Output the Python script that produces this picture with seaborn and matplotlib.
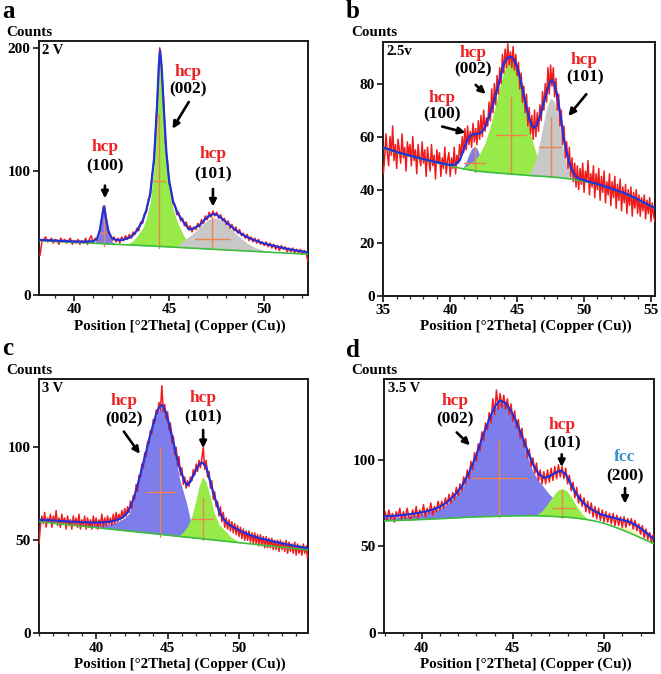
import numpy as np
import matplotlib
matplotlib.use("Agg")
import matplotlib.pyplot as plt
import seaborn as sns
from matplotlib.ticker import MultipleLocator, FixedLocator

# ---------------- data ----------------
# Panel a (2 V)
A_OBS_X0 = 38.2
A_OBS = [32, 43, 45, 47, 43, 44, 46, 42, 45, 44,
         41, 46, 43, 45, 42, 44, 46, 41, 44, 42,
         45, 41, 44, 42, 46, 41, 45, 48, 42, 46,
         44, 50, 57, 66, 72, 61, 50, 49, 44, 47,
         43, 46, 42, 47, 44, 48, 45, 49, 46, 51,
         49, 54, 52, 59, 58, 66, 67, 77, 80, 97,
         108, 138, 165, 200, 184, 158, 124, 109, 90, 85,
         74, 73, 65, 67, 60, 62, 56, 59, 53, 56,
         51, 55, 53, 58, 55, 61, 58, 64, 61, 67,
         63, 68, 64, 67, 62, 65, 60, 62, 57, 60,
         54, 57, 52, 55, 50, 53, 48, 50, 46, 49,
         44, 47, 43, 46, 42, 45, 41, 43, 40, 43,
         39, 42, 38, 41, 37, 40, 36, 40, 37, 39,
         35, 38, 35, 38, 34, 37, 34, 37, 33, 36,
         34, 27]
A_FIT_X = [38.15, 39.0, 40.0, 40.5, 41.0, 41.2, 41.35, 41.45, 41.56, 41.67, 41.8, 41.95,
           42.2, 42.56, 43.0, 43.3, 43.6, 43.8, 44.0, 44.2, 44.35, 44.45, 44.52, 44.6,
           44.7, 44.85, 45.0, 45.2, 45.45, 45.8, 46.06, 46.3, 46.6, 46.9, 47.1, 47.3,
           47.5, 47.8, 48.1, 48.5, 49.0, 49.5, 50.0, 50.5, 51.0, 51.5, 52.0, 52.3]
A_FIT_Y = [44.6, 44.0, 43.3, 43.1, 43.5, 45.5, 52, 62, 71.7, 62, 52, 46.5,
           44.5, 44.6, 47, 52, 60, 69, 82, 110, 150, 185, 198, 185,
           155, 115, 92, 76, 66, 58, 53, 54, 56.5, 61.5, 64, 65.5,
           65, 61.5, 57.5, 52.5, 47.5, 44.3, 41.5, 39.8, 38.0, 36.5, 35.2, 34.5]
A_BG_X = [38.15, 44.5, 47.3, 52.3]
A_BG_Y = [44.0, 39.3, 37.0, 33.0]
A_P100_X = [40.9, 41.1, 41.25, 41.35, 41.45, 41.56, 41.67, 41.77, 41.87, 42.0, 42.2]
A_P100_Y = [41.9, 42.8, 45.5, 50.5, 60, 70, 60, 50.5, 46, 43, 41.3]
A_P002_X = [42.6, 42.9, 43.1, 43.3, 43.6, 43.8, 44.0, 44.2, 44.35, 44.45, 44.52, 44.6,
            44.7, 44.85, 45.0, 45.2, 45.45, 45.8, 46.1, 46.4]
A_P002_Y = [40.6, 42.0, 44.0, 47.5, 54, 62, 75, 104, 146, 182, 196, 182,
            152, 112, 88, 70, 58, 47, 42, 38.6]
A_P101_X = [45.2, 45.5, 45.8, 46.1, 46.4, 46.7, 47.0, 47.3, 47.6, 47.9, 48.2, 48.5,
            48.8, 49.1, 49.5, 50.0, 50.6]
A_P101_Y = [38.6, 40.5, 44.5, 48, 52, 56.5, 60.5, 62.5, 61.5, 58.5, 54, 49.5,
            45.5, 42, 38.5, 36, 34.3]
# crosses: (x, y_bottom, y_top, x_left, x_right, y_horizontal)
A_CROSS = [(41.56, 40, 62, 41.35, 41.77, 50),
           (44.47, 38.4, 146.7, 44.15, 44.8, 92.6),
           (47.24, 37.1, 62.8, 46.34, 48.18, 45.7)]
A_LABELS = [("hcp", 41.62, 119.6), ("(100)", 41.62, 104.0),
            ("hcp", 45.99, 180.5), ("(002)", 45.99, 166.2),
            ("hcp", 47.30, 113.7), ("(101)", 47.30, 97.2)]
A_ARROWS = [(41.62, 88.5, 41.62, 78.2), (46.03, 156.2, 45.17, 134.5),
            (47.30, 85.8, 47.30, 71.5)]

# Panel b (2.5 v)
B_OBS_X0 = 35.0
B_OBS = [46, 52, 61, 54, 49, 60, 53, 64, 51, 57,
         48, 59, 55, 50, 61, 52, 56, 47, 58, 53,
         57, 49, 60, 51, 55, 46, 57, 52, 49, 58,
         50, 55, 45, 56, 51, 47, 57, 49, 53, 44,
         55, 50, 54, 45, 52, 48, 56, 46, 51, 54,
         45, 52, 48, 56, 46, 53, 50, 57, 52, 60,
         54, 63, 55, 64, 57, 62, 56, 65, 58, 63,
         57, 66, 59, 68, 60, 70, 62, 67, 64, 73,
         66, 78, 69, 80, 72, 83, 76, 86, 80, 91,
         84, 93, 86, 95, 87, 92, 86, 94, 85, 91,
         83, 88, 78, 84, 73, 79, 69, 76, 64, 71,
         61, 68, 59, 70, 60, 69, 62, 72, 66, 77,
         70, 80, 73, 86, 76, 87, 79, 86, 75, 82,
         70, 76, 64, 70, 57, 64, 52, 58, 48, 56,
         45, 52, 43, 50, 41, 49, 40, 48, 42, 50,
         39, 47, 43, 51, 38, 46, 41, 49, 37, 46,
         40, 48, 36, 45, 39, 47, 35, 43, 38, 46,
         34, 43, 37, 45, 33, 42, 36, 44, 32, 41,
         35, 42, 31, 40, 34, 41, 30, 39, 33, 40,
         31, 38, 30, 37, 32, 38, 29, 36, 31, 37,
         28, 35, 30, 28]
B_FIT_X = [35.0, 36.0, 37.0, 38.0, 39.0, 40.0, 40.4, 40.7, 41.0, 41.3, 41.6, 42.0, 42.3,
           42.6, 42.9, 43.25, 43.6, 44.0, 44.3, 44.5, 44.75, 45.0, 45.25, 45.5, 45.7,
           45.9, 46.1, 46.26, 46.45, 46.7, 47.0, 47.26, 47.45, 47.6, 47.75, 48.0, 48.25,
           48.5, 48.75, 49.0, 49.3, 49.6, 50.0, 50.5, 51.0, 51.5, 52.0, 52.5, 53.0, 53.5,
           54.0, 54.5, 55.0, 55.3]
B_FIT_Y = [55.9, 54.2, 52.8, 51.5, 50.3, 49.3, 49.5, 51, 55, 59, 60.8, 61, 61.5,
           63.5, 67.5, 73, 79.5, 87.5, 89.8, 90.2, 89.2, 86.4, 81.5, 75.7, 71,
           67, 64.2, 63.2, 64.2, 67.5, 73, 77.6, 80.5, 81.4, 80.2, 75.5, 67.5,
           59, 53, 48.5, 45.3, 44.2, 43.5, 42.8, 42.1, 41.3, 40.5, 39.6, 38.7, 37.6,
           36.4, 35.1, 33.8, 33.0]
B_BG_X = [35.0, 36, 37, 38, 39, 40, 41, 42, 43, 44, 45, 46, 47, 48, 49, 50, 51, 52, 53,
          54, 55, 55.3]
B_BG_Y = [55.6, 54.0, 52.6, 51.3, 50.1, 49.0, 47.8, 47.0, 46.5, 46.1, 45.7, 45.3, 45.0,
          44.6, 44.0, 43.2, 42.0, 40.4, 38.6, 36.3, 33.7, 32.9]
B_P100_X = [40.9, 41.1, 41.3, 41.5, 41.7, 41.85, 42.0, 42.2, 42.4, 42.6]
B_P100_Y = [47.9, 49.5, 52, 54.5, 56, 56.2, 55.5, 53, 50, 47.3]
B_P002_X = [40.8, 41.3, 41.8, 42.2, 42.6, 43.0, 43.3, 43.6, 44.0, 44.3, 44.5, 44.75,
            45.0, 45.25, 45.5, 45.75, 46.0, 46.3, 46.6, 46.9, 47.2, 47.5]
B_P002_Y = [47.9, 49.2, 51, 53.5, 57.5, 64, 70, 76.5, 84.5, 88, 88.8, 88,
            85, 80, 73.5, 67, 61, 55.5, 51, 48, 46, 45]
B_P101_X = [45.8, 46.1, 46.4, 46.7, 47.0, 47.25, 47.5, 47.75, 48.0, 48.2, 48.45, 48.7,
            49.0, 49.4]
B_P101_Y = [45.4, 47.5, 51.5, 58, 66, 71.5, 74.5, 73.5, 69, 63.5, 55, 49, 45.5, 43.8]
B_CROSS = [(41.82, 46.8, 56.2, 41.0, 42.57, 50.2),
           (44.53, 45.9, 75.1, 43.4, 45.65, 60.6),
           (47.53, 44.9, 67.5, 46.65, 48.29, 56.2)]
B_LABELS = [("hcp", 39.39, 74.5), ("(100)", 39.39, 68.4),
            ("hcp", 41.72, 91.5), ("(002)", 41.72, 85.2),
            ("hcp", 50.04, 88.9), ("(101)", 50.04, 82.3)]
B_ARROWS = [(39.40, 63.8, 41.14, 61.5), (41.90, 79.5, 42.65, 76.1),
            (50.17, 76.0, 48.83, 67.8)]

# Panel c (3 V)
C_OBS_X0 = 36.0
C_OBS = [48, 58, 63, 59, 65, 57, 62, 60, 64, 57,
         63, 59, 66, 58, 62, 57, 64, 59, 62, 56,
         63, 58, 61, 56, 63, 58, 62, 57, 64, 56,
         61, 58, 63, 56, 62, 57, 61, 56, 63, 58,
         62, 56, 61, 58, 64, 57, 62, 58, 63, 59,
         62, 58, 64, 59, 65, 60, 64, 61, 66, 62,
         67, 63, 68, 65, 71, 67, 74, 72, 80, 76,
         85, 84, 91, 89, 97, 95, 103, 102, 109, 107,
         115, 113, 120, 118, 124, 120, 133, 119, 123, 115,
         119, 109, 113, 102, 106, 96, 100, 90, 95, 85,
         89, 80, 84, 78, 82, 79, 84, 82, 88, 85,
         91, 87, 93, 89, 94, 100, 88, 93, 84, 87,
         78, 82, 72, 76, 68, 71, 63, 68, 60, 65,
         57, 62, 56, 61, 55, 60, 54, 59, 53, 58,
         52, 57, 51, 56, 50, 55, 50, 55, 49, 54,
         48, 54, 48, 53, 47, 53, 47, 52, 46, 52,
         46, 51, 46, 51, 45, 50, 45, 50, 44, 50,
         45, 49, 44, 50, 43, 49, 44, 48, 43, 49,
         42, 48, 43, 47, 42, 48, 43, 47, 40]
C_FIT_X = [36.0, 37.0, 38.0, 39.0, 40.0, 40.5, 41.0, 41.5, 41.9, 42.2, 42.4, 42.6, 42.85,
           43.06, 43.3, 43.53, 43.75, 43.99, 44.2, 44.4, 44.62, 44.85, 45.0, 45.16, 45.4,
           45.63, 45.8, 45.98, 46.2, 46.37, 46.6, 46.85, 47.1, 47.3, 47.45, 47.7, 48.0,
           48.2, 48.4, 48.65, 48.9, 49.2, 49.6, 50.1, 50.76, 51.5, 52.3, 53.1, 54.0, 54.85]
C_FIT_Y = [61.0, 60.6, 60.1, 59.7, 59.5, 59.6, 60.0, 61.0, 62.5, 65, 68, 71.7, 78,
           84.2, 91.5, 98.5, 105.5, 112, 117.5, 121.3, 122.7, 119.5, 115.5, 111, 103,
           95, 90, 86, 81.5, 79.7, 81.5, 85.5, 89.5, 91.3, 91.7, 89.5, 81,
           75.5, 70.5, 65, 61.5, 59, 57.2, 55, 52.8, 51, 49.5, 48.2, 46.8, 45.7]
C_BG_X = [36.0, 54.85]
C_BG_Y = [60.0, 44.8]
C_P002_X = [38.0, 39.0, 40.0, 41.0, 41.5, 42.0, 42.3, 42.6, 42.85, 43.06, 43.3, 43.53,
            43.75, 43.99, 44.2, 44.4, 44.62, 44.85, 45.0, 45.16, 45.4, 45.63, 45.86,
            46.1, 46.33, 46.5, 46.68, 46.85, 47.0, 47.3]
C_P002_Y = [58.9, 58.6, 58.6, 59.0, 60.0, 62.0, 64.5, 70.5, 77, 83.5, 91, 98,
            105, 111.5, 116.5, 120, 121.5, 118.5, 114.5, 109.5, 101, 92, 82.4,
            76, 70, 64, 58.5, 55, 52.5, 51.0]
C_P101_X = [45.8, 46.1, 46.4, 46.7, 47.0, 47.2, 47.45, 47.7, 47.96, 48.28, 48.6, 48.98,
            49.4, 49.8, 50.2]
C_P101_Y = [52.5, 54.5, 57.5, 63, 72, 79, 84.2, 81.5, 74, 64.5, 58.5, 55.5, 52, 50, 48.6]
C_CROSS = [(44.5, 52.0, 99.5, 43.46, 45.56, 75.8),
           (47.45, 50.2, 72.6, 46.68, 48.19, 61.4)]
C_LABELS = [("hcp", 41.94, 124.9), ("(002)", 41.94, 115.0),
            ("hcp", 47.49, 126.3), ("(101)", 47.49, 116.1)]
C_ARROWS = [(41.94, 108.4, 43.06, 96.4), (47.49, 109.3, 47.49, 99.5)]

# Panel d (3.5 V)
D_OBS_X0 = 38.0
D_OBS = [70, 65, 71, 66, 69, 64, 70, 67, 72, 65,
         70, 66, 72, 67, 65, 71, 67, 73, 66, 71,
         68, 74, 67, 72, 69, 75, 68, 73, 70, 76,
         71, 76, 72, 78, 74, 80, 75, 81, 77, 84,
         79, 86, 82, 90, 86, 94, 89, 99, 94, 104,
         99, 109, 105, 116, 111, 121, 117, 127, 121, 135,
         126, 140, 129, 138, 130, 137, 129, 135, 126, 132,
         122, 128, 118, 123, 112, 118, 107, 112, 101, 106,
         96, 101, 92, 98, 88, 94, 86, 93, 86, 94,
         87, 95, 88, 96, 89, 97, 90, 96, 89, 95,
         86, 91, 82, 87, 78, 84, 75, 80, 73, 78,
         70, 76, 69, 75, 67, 73, 66, 72, 65, 71,
         64, 70, 64, 69, 63, 69, 62, 68, 62, 67,
         61, 67, 61, 66, 62, 66, 60, 65, 59, 63,
         57, 62, 55, 60, 54, 58, 52, 57]
D_FIT_X = [37.95, 38.5, 39.0, 39.5, 40.0, 40.5, 41.0, 41.4, 41.8, 42.2, 42.6, 43.0, 43.4,
           43.8, 44.05, 44.3, 44.6, 44.9, 45.2, 45.5, 45.8, 46.1, 46.4, 46.7, 47.0, 47.3,
           47.63, 47.9, 48.15, 48.4, 48.7, 49.0, 49.3, 49.8, 50.3, 50.73, 51.06, 51.35,
           51.6, 51.9, 52.15, 52.45, 52.74]
D_FIT_Y = [67.3, 67.6, 68.1, 68.8, 69.6, 70.8, 72.8, 75.5, 79.5, 84.5, 92.5, 102.5, 115,
           125.5, 131, 134, 132.5, 128, 121.5, 113.5, 105, 97.5, 92, 89.5, 90.3, 92.3,
           93.6, 91.5, 86.5, 81.5, 77, 73.8, 71.5, 68.5, 67, 66, 65, 64.3,
           63.1, 61.3, 59.2, 56.8, 54.2]
D_BG_X = [37.95, 39, 40, 41, 42, 43, 44, 45, 46, 47, 48, 48.5, 49, 49.5, 50, 50.5, 51,
          51.5, 52, 52.74]
D_BG_Y = [64.7, 65.1, 65.5, 66.0, 66.5, 67.0, 67.3, 67.6, 67.7, 67.4, 66.8, 66.3, 65.6,
          64.6, 63.3, 61.5, 59.5, 57.3, 55.0, 51.6]
D_P002_X = [37.95, 39.0, 40.0, 41.0, 41.4, 41.8, 42.2, 42.6, 43.0, 43.4, 43.8, 44.05,
            44.3, 44.6, 44.9, 45.2, 45.5, 45.8, 46.1, 46.4, 46.7, 47.0, 47.3, 47.6,
            48.0, 48.5, 49.0, 49.5]
D_P002_Y = [66.5, 67.2, 68.6, 71.8, 74.5, 78.5, 83.5, 91.5, 101.5, 114, 124.5, 130,
            133, 131.5, 126.5, 119.5, 111, 101.5, 93, 88, 84, 80, 77, 74,
            70.5, 67.5, 65.8, 64.6]
D_P101_X = [46.3, 46.6, 46.9, 47.2, 47.45, 47.7, 47.95, 48.2, 48.45, 48.7, 48.95, 49.2]
D_P101_Y = [68, 70.5, 74.5, 79, 82.3, 83.3, 82, 78.5, 74, 70, 67, 65.2]
D_P200_X = [50.6, 50.9, 51.2, 51.4, 51.6, 51.8, 52.0, 52.2]
D_P200_Y = [61.4, 61.2, 61.0, 60.6, 59.5, 57.8, 55.6, 54.2]
D_CROSS = [(44.24, 66.9, 111.5, 42.74, 45.76, 89.4),
           (47.71, 66.3, 82.7, 47.13, 48.41, 72.1)]
D_LABELS = [("hcp", 41.83, 133.6), ("(002)", 41.83, 123.1),
            ("hcp", 47.68, 119.8), ("(101)", 47.68, 109.2),
            ("fcc", 51.15, 101.5), ("(200)", 51.15, 90.5)]
D_ARROWS = [(41.92, 115.6, 42.65, 108.2), (47.68, 103.0, 47.68, 95.7),
            (51.15, 83.6, 51.15, 74.6)]

PANEL_TAGS = ["2 V", "2.5v", "3 V", "3.5 V"]
PANEL_LETTERS = ["a", "b", "c", "d"]
XLABEL = "Position [°2Theta] (Copper (Cu))"

# ---------------- styling ----------------
sns.set_theme(style="ticks")
plt.rcParams['font.family'] = ['Liberation Serif', 'DejaVu Serif']
plt.rcParams['font.weight'] = 'bold'
plt.rcParams['axes.labelweight'] = 'bold'

RED = "#f01c1c"
BLUE = "#2430d8"
GREEN_LINE = "#3cbf3c"
PURPLE_FILL = "#7d7deb"
GREEN_FILL = "#98ea48"
GRAY_FILL = "#c8c8c8"
YELLOW_FILL = "#f4f0b0"
ORANGE = "#f0844c"
HCP_RED = "#ee2222"
FCC_BLUE = "#3a8fc8"

W, H = 661, 674
fig = plt.figure(figsize=(W / 100, H / 100), dpi=100)


def ax_rect(l, r, t, b):
    return [l / W, 1 - b / H, (r - l) / W, (b - t) / H]


axes = [fig.add_axes(ax_rect(39, 308, 41, 295)),
        fig.add_axes(ax_rect(383.3, 655, 41.7, 295.7)),
        fig.add_axes(ax_rect(39, 308.3, 379.3, 633.3)),
        fig.add_axes(ax_rect(384.3, 654, 379.3, 633.3))]

panels = [
    dict(x0=A_OBS_X0, obs=A_OBS, fx=A_FIT_X, fy=A_FIT_Y, bx=A_BG_X, by=A_BG_Y,
         comps=[(A_P100_X, A_P100_Y, PURPLE_FILL), (A_P002_X, A_P002_Y, GREEN_FILL),
                (A_P101_X, A_P101_Y, GRAY_FILL)],
         cross=A_CROSS, labels=A_LABELS, arrows=A_ARROWS,
         xlim=(38.15, 52.3), ylim=(0, 205.5), yt=[0, 100, 200]),
    dict(x0=B_OBS_X0, obs=B_OBS, fx=B_FIT_X, fy=B_FIT_Y, bx=B_BG_X, by=B_BG_Y,
         comps=[(B_P100_X, B_P100_Y, PURPLE_FILL), (B_P002_X, B_P002_Y, GREEN_FILL),
                (B_P101_X, B_P101_Y, GRAY_FILL)],
         cross=B_CROSS, labels=B_LABELS, arrows=B_ARROWS,
         xlim=(35.0, 55.3), ylim=(0, 95.8), yt=[0, 20, 40, 60, 80]),
    dict(x0=C_OBS_X0, obs=C_OBS, fx=C_FIT_X, fy=C_FIT_Y, bx=C_BG_X, by=C_BG_Y,
         comps=[(C_P002_X, C_P002_Y, PURPLE_FILL), (C_P101_X, C_P101_Y, GREEN_FILL)],
         cross=C_CROSS, labels=C_LABELS, arrows=C_ARROWS,
         xlim=(36.0, 54.85), ylim=(0, 136.5), yt=[0, 50, 100]),
    dict(x0=D_OBS_X0, obs=D_OBS, fx=D_FIT_X, fy=D_FIT_Y, bx=D_BG_X, by=D_BG_Y,
         comps=[(D_P002_X, D_P002_Y, PURPLE_FILL), (D_P101_X, D_P101_Y, GREEN_FILL),
                (D_P200_X, D_P200_Y, YELLOW_FILL)],
         cross=D_CROSS, labels=D_LABELS, arrows=D_ARROWS,
         xlim=(37.95, 52.74), ylim=(0, 146.2), yt=[0, 50, 100]),
]

for i, (ax, p) in enumerate(zip(axes, panels)):
    obs = np.asarray(p["obs"], dtype=float)
    obs_x = p["x0"] + 0.1 * np.arange(len(obs))
    bx = np.asarray(p["bx"], dtype=float)
    by = np.asarray(p["by"], dtype=float)

    for cx, cy, col in p["comps"]:
        cx = np.asarray(cx, dtype=float)
        ax.fill_between(cx, np.interp(cx, bx, by), cy, color=col, lw=0, zorder=1)

    for (x, y0, y1, xl, xr, yh) in p["cross"]:
        ax.plot([x, x], [y0, y1], color=ORANGE, lw=1.0, zorder=2)
        ax.plot([xl, xr], [yh, yh], color=ORANGE, lw=1.0, zorder=2)

    sns.lineplot(x=obs_x, y=obs, ax=ax, color=RED, lw=1.1, estimator=None,
                 sort=False, zorder=3, legend=False)
    sns.lineplot(x=bx, y=by, ax=ax, color=GREEN_LINE, lw=1.2, estimator=None,
                 sort=False, zorder=4, legend=False)
    sns.lineplot(x=p["fx"], y=p["fy"], ax=ax, color=BLUE, lw=1.6, estimator=None,
                 sort=False, zorder=5, legend=False)

    for text, x, y in p["labels"]:
        if text == "hcp":
            col = HCP_RED
        elif text == "fcc":
            col = FCC_BLUE
        else:
            col = "black"
        ax.text(x, y, text, color=col, fontsize=12.5, fontweight='bold',
                ha='center', va='center', zorder=7)
    for (xt, yt_, xh, yh) in p["arrows"]:
        ax.annotate("", xy=(xh, yh), xytext=(xt, yt_),
                    arrowprops=dict(arrowstyle='-|>', color='black', lw=1.9,
                                    mutation_scale=10, shrinkA=0, shrinkB=0),
                    zorder=7)

    ax.set_xlim(*p["xlim"])
    ax.set_ylim(*p["ylim"])
    ax.xaxis.set_major_locator(MultipleLocator(5))
    ax.xaxis.set_minor_locator(MultipleLocator(1))
    ax.yaxis.set_major_locator(FixedLocator(p["yt"]))
    ax.tick_params(axis='both', which='major', direction='out', length=4, width=1.1,
                   labelsize=11, pad=2, colors='black')
    ax.tick_params(axis='x', which='minor', direction='out', length=2.5, width=0.9)
    for lbl in ax.get_xticklabels() + ax.get_yticklabels():
        lbl.set_fontweight('bold')
    for s in ax.spines.values():
        s.set_visible(True)
        s.set_linewidth(1.4)
        s.set_color('#1a1a1a')
    ax.set_facecolor('white')
    ax.set_ylabel("")
    ax.set_xlabel(XLABEL, fontsize=10.8, fontweight='bold', color='black')
    ax.xaxis.label.set_va('center')
    ax.xaxis.set_label_coords(0.524, -0.122)

    ax.text(0.012, 0.963, PANEL_TAGS[i], transform=ax.transAxes, fontsize=10.5,
            fontweight='bold', ha='left', va='center', color='black', zorder=8)

# panel letters and "Counts" labels (pixel positions)
letter_pos = [(2, 12), (346, 11), (2, 349), (346, 350)]
counts_pos = [(6, 32.5), (351, 32.5), (6, 370), (351, 370)]
for L, (lx, ly), (cx, cy) in zip(PANEL_LETTERS, letter_pos, counts_pos):
    fig.text(lx / W, 1 - ly / H, L, fontsize=18, fontweight='bold', ha='left',
             va='center', color='black')
    fig.text(cx / W, 1 - cy / H, "Counts", fontsize=10.8, fontweight='bold',
             ha='left', va='center', color='black')

fig.savefig("out.png", dpi=100, facecolor='white')
